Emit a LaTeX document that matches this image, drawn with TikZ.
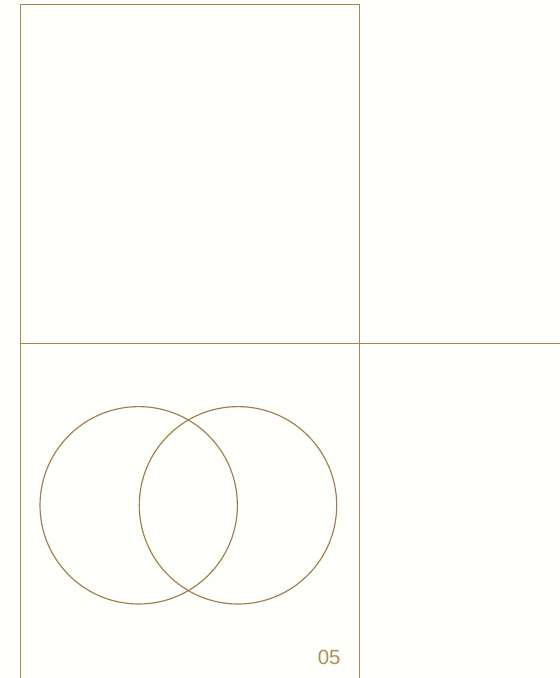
\documentclass[tikz,border=0pt]{standalone}
\usepackage{fontspec}
\setmainfont{Liberation Sans}
\usetikzlibrary{positioning}
\definecolor{paper}{HTML}{FEFEFB}
\definecolor{gold}{HTML}{A88850}
\definecolor{ring}{HTML}{9E7E4C}
\definecolor{numgold}{HTML}{B08D55}

\begin{document}
\begin{tikzpicture}[
    x=1pt, y=-1pt,
    frame/.style={draw=gold, line width=1.4pt},
    venn/.style={draw=ring, line width=1.15pt},
    pagenum/.style={text=numgold, font=\fontsize{20.5}{24}\selectfont, inner sep=0pt}
]
    \fill[paper] (0,0) rectangle (560,678);
    \useasboundingbox (0,0) rectangle (560,678);

    % frame corners
    \coordinate (tl) at (20.5,4.5);
    \coordinate (tr) at (359.3,4.5);
    \coordinate (ml) at (20.5,343.5);
    \coordinate (mr) at (560,343.5);
    \coordinate (bl) at (20.5,678);
    \coordinate (br) at (359.3,678);

    \draw[frame] (ml) -- (tl) -- (tr) -- (br);
    \draw[frame] (tl) -- (bl);
    \draw[frame] (ml) -- (mr);

    % two overlapping circles
    \draw[venn] (138.7,505.3) circle[radius=98.7];
    \draw[venn] (238,505.3) circle[radius=98.7];

    \node[pagenum, anchor=base east] (num) at (340.8,664.3) {05};
\end{tikzpicture}
\end{document}
